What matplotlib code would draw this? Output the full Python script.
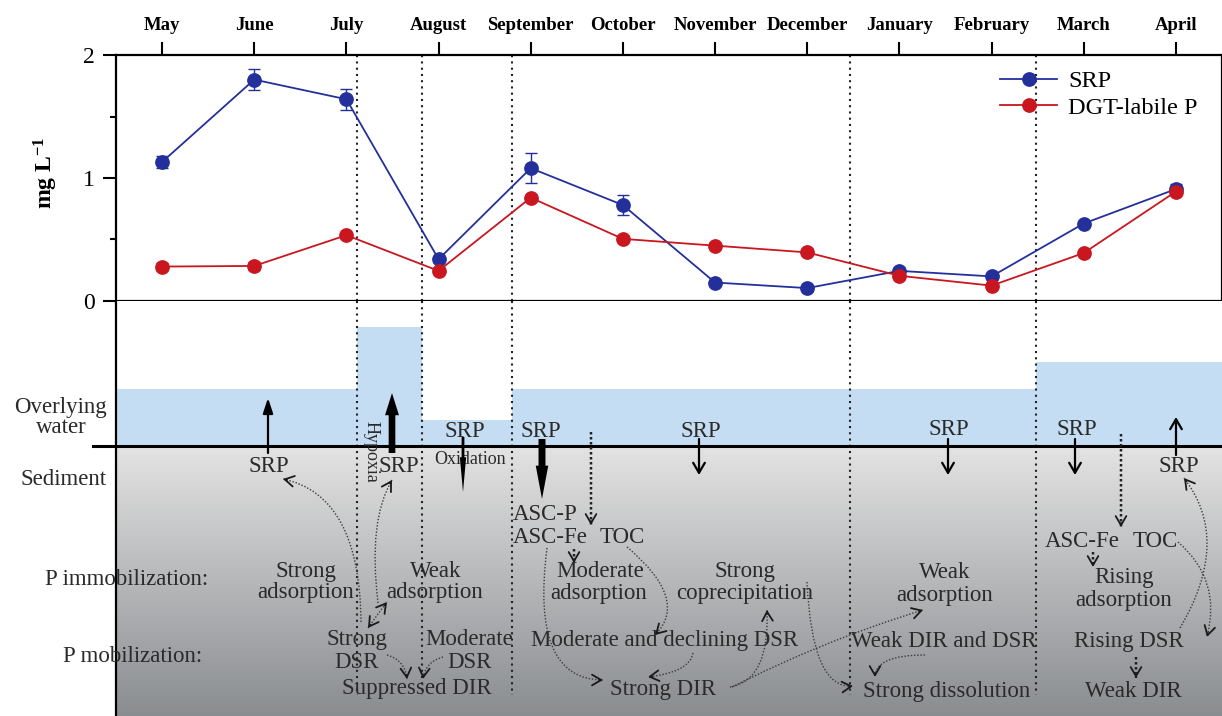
import numpy as np
import matplotlib
matplotlib.use('Agg')
import matplotlib.pyplot as plt
from matplotlib.path import Path
from matplotlib.patches import PathPatch

# ---------------- data ----------------
months = ['May', 'June', 'July', 'August', 'September', 'October',
          'November', 'December', 'January', 'February', 'March', 'April']
srp = [1.13, 1.80, 1.64, 0.34, 1.08, 0.78, 0.15, 0.105, 0.245, 0.20, 0.63, 0.91]
srp_err = [0.05, 0.085, 0.085, 0.02, 0.12, 0.08, 0.02, 0.02, 0.02, 0.02, 0.02, 0.04]
dgt = [0.28, 0.285, 0.535, 0.245, 0.84, 0.505, 0.45, 0.395, 0.205, 0.125, 0.39, 0.89]
dgt_err = [0.03, 0.03, 0.02, 0.02, 0.02, 0.02, 0.02, 0.02, 0.02, 0.02, 0.02, 0.02]
series_names = ['SRP', 'DGT-labile P']

# period separators (in month units) and overlying-water level (panel rows)
separators = [2.11, 2.82, 3.80, 7.46, 9.48]
water_edges = [-0.5, 2.11, 2.82, 3.80, 9.48, 11.5]
water_level = [389, 327, 420, 389, 362]

# ---------------- style ----------------
W, H = 1222, 716
plt.rcParams['font.family'] = ['Liberation Serif', 'DejaVu Serif']
plt.rcParams['mathtext.fontset'] = 'custom'
plt.rcParams['mathtext.rm'] = 'Liberation Serif'
plt.rcParams['mathtext.bf'] = 'Liberation Serif:bold'
plt.rcParams['mathtext.it'] = 'Liberation Serif:italic'

BLUE = '#23309c'
RED = '#c9161f'
TXT = '#2a2a2a'

fig = plt.figure(figsize=(W / 100, H / 100), dpi=100)
ax = fig.add_axes([116 / W, 1 - 301 / H, 1106 / W, 246 / H])
axs = fig.add_axes([116 / W, 0, 1106 / W, 1 - 301 / H])


def X(px):
    return -0.5 + (px - 116) * 12 / 1106


# ---------------- top panel ----------------
x = np.arange(len(months))
ax.plot(x, srp, '-o', color=BLUE, ms=9.6, lw=1.3, label=series_names[0], zorder=4)
ax.errorbar(x, srp, yerr=srp_err, fmt='none', ecolor=BLUE, elinewidth=1.0,
            capsize=4.5, capthick=1.0, zorder=3)
ax.plot(x, dgt, '-o', color=RED, ms=9.6, lw=1.3, label=series_names[1], zorder=4)
ax.errorbar(x, dgt, yerr=dgt_err, fmt='none', ecolor=RED, elinewidth=1.0,
            capsize=4.5, capthick=1.0, zorder=3)

ax.set_xlim(-0.5, 11.5)
ax.set_ylim(0, 2)
ax.set_xticks(x)
ax.set_xticklabels(months, fontweight='bold', fontsize=13.5)
ax.xaxis.set_ticks_position('top')
ax.xaxis.set_label_position('top')
ax.tick_params(axis='x', which='both', top=True, bottom=False, direction='out',
               length=9.4, width=1.5, pad=5.5)
ax.set_yticks([0, 1, 2])
ax.set_yticklabels(['0', '1', '2'], fontsize=17)
ax.set_yticks([0.5, 1.5], minor=True)
ax.tick_params(axis='y', which='major', direction='out', length=9.4, width=1.5,
               pad=6, right=False)
ax.tick_params(axis='y', which='minor', direction='out', length=4.5, width=1.5,
               right=False)
for s in ax.spines.values():
    s.set_linewidth(1.6)
ax.set_ylabel(r'$\mathbf{mg\ L^{-1}}$', fontsize=17)
ax.yaxis.set_label_coords((60 - 116) / 1106, 0.52)

for s in separators:
    ax.axvline(s, color='#222222', ls=(0, (1, 2)), lw=1.5, zorder=1)

ax.legend(loc='upper left', bbox_to_anchor=(1000 / W, 1 - 70 / H),
          bbox_transform=fig.transFigure, frameon=False, fontsize=17.5,
          handlelength=2.35, handletextpad=0.45, borderpad=0, borderaxespad=0,
          labelspacing=0.2, numpoints=1)

# ---------------- lower schematic panel ----------------
axs.set_xlim(-0.5, 11.5)
axs.set_ylim(716, 301)
axs.set_xticks([])
axs.set_yticks([])
for k in ['top', 'right', 'bottom']:
    axs.spines[k].set_visible(False)
axs.spines['left'].set_linewidth(1.6)

# sediment gradient
n = 256
t = np.linspace(0, 1, n)[:, None, None]
top_c = np.array([0.89, 0.89, 0.89])
bot_c = np.array([0.54, 0.55, 0.565])
img = top_c + (bot_c - top_c) * t
axs.imshow(img, extent=(-0.5, 11.5, 716, 446), aspect='auto', zorder=0,
           interpolation='bilinear')
axs.set_xlim(-0.5, 11.5)
axs.set_ylim(716, 301)

# overlying water
lefts = water_edges[:-1]
widths = np.diff(water_edges)
heights = [lv - 446 for lv in water_level]
axs.bar(lefts, heights, width=widths, bottom=446, align='edge',
        color='#c5ddf2', edgecolor='none', zorder=1)

# sediment-water interface
axs.plot([X(93), 11.5], [446, 446], color='k', lw=2.2, clip_on=False, zorder=6)

axs.vlines(separators, 301, 695, colors='#222222', linestyles=(0, (1, 2)),
           lw=1.5, zorder=2)

# texts
texts = [
    (60, 413, 'Overlying', 'center'), (61, 433, 'water', 'center'),
    (64, 485, 'Sediment', 'center'),
    (45, 585, 'P immobilization:', 'left'), (63, 662, 'P mobilization:', 'left'),
    (269, 472, 'SRP', 'center'), (399, 472, 'SRP', 'center'),
    (465, 437, 'SRP', 'center'), (541, 437, 'SRP', 'center'),
    (701, 437, 'SRP', 'center'), (949, 435, 'SRP', 'center'),
    (1077, 435, 'SRP', 'center'), (1179, 472, 'SRP', 'center'),
    (306, 577, 'Strong', 'center'), (306, 598, 'adsorption', 'center'),
    (436, 577, 'Weak', 'center'), (435, 598, 'adsorption', 'center'),
    (357, 645, 'Strong', 'center'), (356, 668, 'DSR', 'center'),
    (417, 694, 'Suppressed DIR', 'center'),
    (469, 645, 'Moderate', 'center'), (469, 668, 'DSR', 'center'),
    (513, 520, 'ASC-P', 'left'), (513, 543, 'ASC-Fe', 'left'),
    (600, 543, 'TOC', 'left'),
    (600, 577, 'Moderate', 'center'), (599, 599, 'adsorption', 'center'),
    (745, 577, 'Strong', 'center'), (745, 599, 'coprecipitation', 'center'),
    (665, 646, 'Moderate and declining DSR', 'center'),
    (663, 695, 'Strong DIR', 'center'),
    (945, 578, 'Weak', 'center'), (945, 601, 'adsorption', 'center'),
    (944, 647, 'Weak DIR and DSR', 'center'),
    (947, 697, 'Strong dissolution', 'center'),
    (1045, 547, 'ASC-Fe', 'left'), (1133, 547, 'TOC', 'left'),
    (1124, 583, 'Rising', 'center'), (1124, 606, 'adsorption', 'center'),
    (1129, 647, 'Rising DSR', 'center'), (1133, 697, 'Weak DIR', 'center'),
]
for px, row, s, ha in texts:
    axs.text(X(px), row, s, ha=ha, va='baseline', fontsize=16.5, color=TXT,
             clip_on=False, zorder=7)
axs.text(X(470), 464, 'Oxidation', ha='center', va='baseline', fontsize=13,
         color=TXT, zorder=7)
axs.text(X(371), 452, 'Hypoxia', ha='center', va='center', fontsize=13,
         rotation=270, color=TXT, zorder=7)


# solid flux arrows
def flux(px, r0, r1, style, lw=0.0, ms=10):
    axs.annotate('', xy=(X(px), r1), xytext=(X(px), r0),
                 arrowprops=dict(arrowstyle=style, color='k', lw=lw,
                                 mutation_scale=ms, shrinkA=0, shrinkB=0),
                 zorder=8)


flux(268, 453, 398, '-|>,head_length=0.9,head_width=0.3', lw=1.6)
flux(392, 453, 393, 'simple,head_length=1.6,head_width=1.0,tail_width=0.48')
flux(463, 437, 492, 'simple,head_length=2.5,head_width=0.45,tail_width=0.2')
flux(542, 439, 499, 'simple,head_length=2.4,head_width=0.9,tail_width=0.5')
for px in [699, 948, 1075]:
    flux(px, 439, 475, '->,head_length=0.6,head_width=0.35', lw=1.6, ms=12)
flux(1176, 455, 417, '->,head_length=0.6,head_width=0.35', lw=1.6, ms=12)


# dotted process arrows
def head(p_tip, p_from, lw=1.3, ms=12):
    d = np.array(p_tip, float) - np.array(p_from, float)
    d = d / np.hypot(*d)
    back = np.array(p_tip) - 4 * d
    axs.annotate('', xy=(X(p_tip[0]), p_tip[1]), xytext=(X(back[0]), back[1]),
                 arrowprops=dict(arrowstyle='->,head_length=0.55,head_width=0.32',
                                 color='#1a1a1a', lw=lw, mutation_scale=ms,
                                 shrinkA=0, shrinkB=0), zorder=8)


def dcurve(p0, c, p1, both=False, lw=1.0, color='#3a3a3a', ls=(0, (1, 1.3))):
    verts = [(X(p0[0]), p0[1]), (X(c[0]), c[1]), (X(p1[0]), p1[1])]
    path = Path(verts, [Path.MOVETO, Path.CURVE3, Path.CURVE3])
    axs.add_patch(PathPatch(path, fill=False, lw=lw, edgecolor=color,
                            linestyle=ls, zorder=7))
    head(p1, c)
    if both:
        head(p0, c)


curves = [
    ((361, 622), (360, 495), (283, 479)),
    ((378, 603), (368, 520), (392, 480)),
    ((387, 655), (405, 660), (407, 679)),
    ((443, 657), (425, 662), (423, 679)),
    ((547, 548), (530, 680), (603, 680)),
    ((627, 547), (690, 600), (655, 635)),
    ((693, 653), (690, 672), (648, 677)),
    ((730, 687), (770, 680), (767, 610)),
    ((732, 687), (825, 640), (923, 610)),
    ((807, 582), (812, 690), (853, 686)),
    ((925, 655), (875, 655), (875, 677)),
    ((1178, 542), (1222, 580), (1207, 637)),
    ((1180, 628), (1232, 540), (1184, 478)),
]
for p0, c, p1 in curves:
    dcurve(p0, c, p1)
dcurve((368, 628), (377, 615), (387, 602), both=True)

# dotted straight arrows
for px, r0, r1 in [(591, 432, 525), (1121, 434, 527), (574, 549, 563),
                   (1093, 552, 567), (1136, 657, 678)]:
    dcurve((px, r0), (px, (r0 + r1) / 2), (px, r1), lw=1.8, color='#222222',
           ls=(0, (1, 1)))

fig.savefig('out.png', dpi=100)
